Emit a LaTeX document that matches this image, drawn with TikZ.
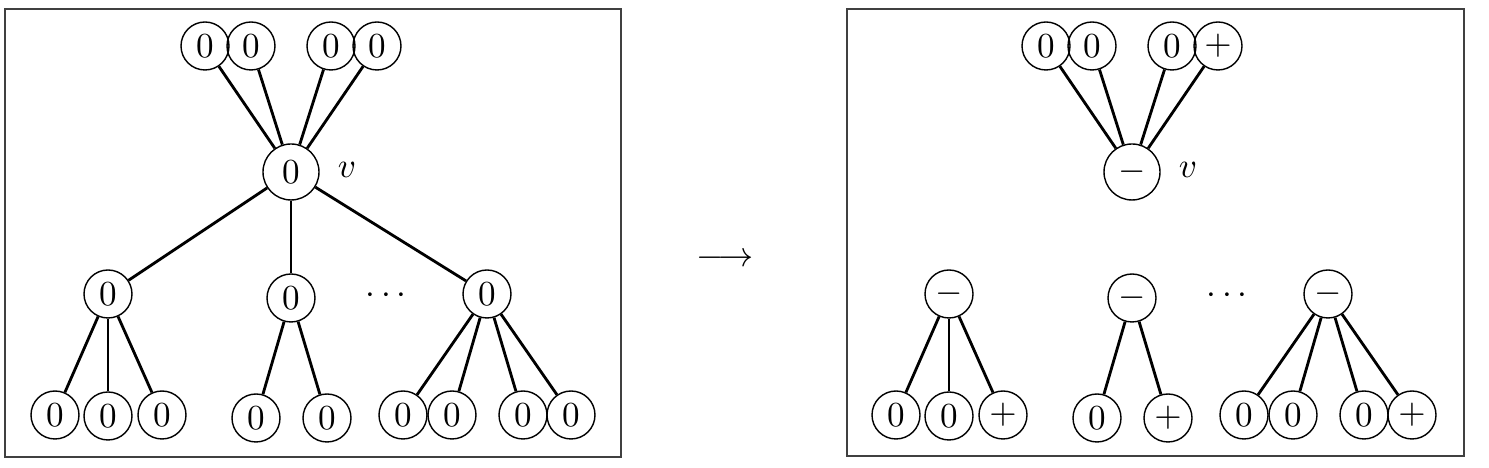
\documentclass[tikz,border=0pt]{standalone}
\begin{document}
\begin{tikzpicture}[
  vert/.style={draw, circle, inner sep=0pt, minimum size=0.48cm},
  root/.style={vert, minimum size=0.56cm},
  link/.style={line width=0.8pt},
  panel/.style={draw=black!75, line width=0.7pt}
]
  \useasboundingbox (0,0) rectangle (14.89,4.68);
  \draw[panel] (0.05,0.11) rectangle (6.21,4.59);
  \draw[panel] (8.47,0.12) rectangle (14.64,4.59);

  % before
  \node[vert] (t1) at (2.05,4.22) {0};
  \node[vert] (t2) at (2.51,4.22) {0};
  \node[vert] (t3) at (3.31,4.22) {0};
  \node[vert] (t4) at (3.77,4.22) {0};
  \node[root] (v) at (2.91,2.96) {0};
  \node (vlab) at (3.47,2.98) {$v$};
  \node[vert] (m1) at (1.08,1.74) {0};
  \node[vert] (m2) at (2.91,1.70) {0};
  \node[vert] (m3) at (4.87,1.74) {0};
  \node (dots) at (3.86,1.72) {$\cdots$};
  \node[vert] (b1) at (0.55,0.53) {0};
  \node[vert] (b2) at (1.08,0.52) {0};
  \node[vert] (b3) at (1.62,0.53) {0};
  \node[vert] (b4) at (2.56,0.50) {0};
  \node[vert] (b5) at (3.27,0.50) {0};
  \node[vert] (b6) at (4.03,0.53) {0};
  \node[vert] (b7) at (4.52,0.53) {0};
  \node[vert] (b8) at (5.23,0.53) {0};
  \node[vert] (b9) at (5.71,0.53) {0};
  \foreach \a/\b in {t1/v, t2/v, t3/v, t4/v, v/m1, v/m2, v/m3,
    m1/b1, m1/b2, m1/b3, m2/b4, m2/b5, m3/b6, m3/b7, m3/b8, m3/b9}
    \draw[link] (\a) -- (\b);

  \node (arrow) at (7.25,2.08) {$\longrightarrow$};

  % after
  \begin{scope}[xshift=8.41cm]
    \node[vert] (rt1) at (2.05,4.22) {0};
    \node[vert] (rt2) at (2.51,4.22) {0};
    \node[vert] (rt3) at (3.31,4.22) {0};
    \node[vert] (rt4) at (3.77,4.22) {$+$};
    \node[root] (rv) at (2.91,2.96) {$-$};
    \node (rvlab) at (3.47,2.98) {$v$};
    \node[vert] (rm1) at (1.08,1.74) {$-$};
    \node[vert] (rm2) at (2.91,1.70) {$-$};
    \node[vert] (rm3) at (4.87,1.74) {$-$};
    \node (rdots) at (3.86,1.72) {$\cdots$};
    \node[vert] (rb1) at (0.55,0.53) {0};
    \node[vert] (rb2) at (1.08,0.52) {0};
    \node[vert] (rb3) at (1.62,0.53) {$+$};
    \node[vert] (rb4) at (2.56,0.50) {0};
    \node[vert] (rb5) at (3.27,0.50) {$+$};
    \node[vert] (rb6) at (4.03,0.53) {0};
    \node[vert] (rb7) at (4.52,0.53) {0};
    \node[vert] (rb8) at (5.23,0.53) {0};
    \node[vert] (rb9) at (5.71,0.53) {$+$};
    \foreach \a/\b in {rt1/rv, rt2/rv, rt3/rv, rt4/rv,
      rm1/rb1, rm1/rb2, rm1/rb3, rm2/rb4, rm2/rb5,
      rm3/rb6, rm3/rb7, rm3/rb8, rm3/rb9}
      \draw[link] (\a) -- (\b);
  \end{scope}
\end{tikzpicture}
\end{document}
